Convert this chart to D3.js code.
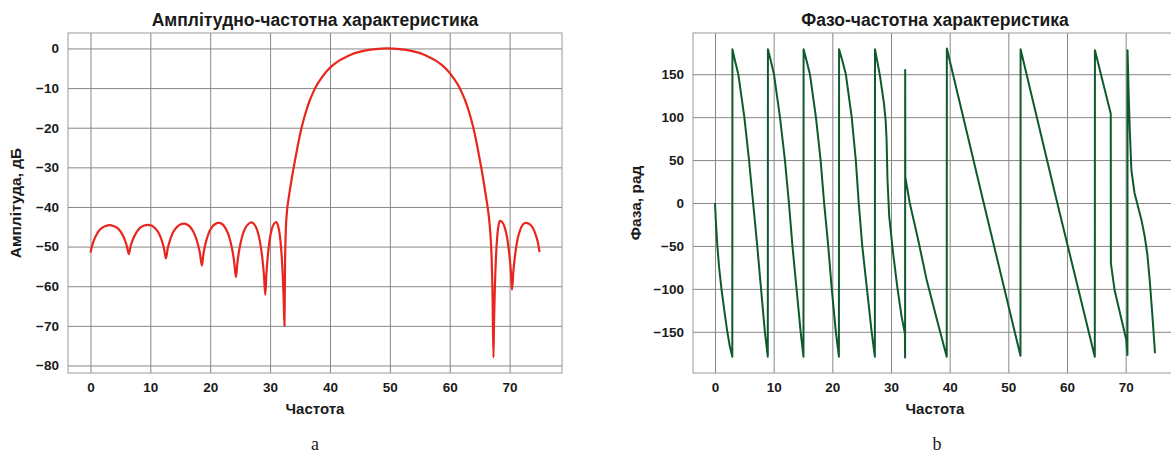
<!DOCTYPE html>
<html>
<head>
<meta charset="utf-8">
<title>АЧХ / ФЧХ</title>
<script src="https://d3js.org/d3.v7.min.js"></script>
<style>
    body { margin: 0; background: #fff; overflow: hidden; }
    svg { display: block; }
    text { font-family: 'Liberation Sans', Arial, sans-serif; font-weight: bold; fill: #1a1a1a; }
    .grid line { stroke: #878787; stroke-width: 1; }
    .grid path { display: none; }
    .tick text { font-size: 13.5px; }
    .frame { fill: none; stroke: #9a9a9a; stroke-width: 1; }
    .caption { font-family: 'Liberation Serif', 'Times New Roman', serif; font-weight: normal; font-size: 18px; }
</style>
</head>
<body>
<svg width="1171" height="461"></svg>
<script>
// DATA ========================================================
const freqTicks = [0, 10, 20, 30, 40, 50, 60, 70];
const ampTicks = [0, -10, -20, -30, -40, -50, -60, -70, -80];
const phaseTicks = [150, 100, 50, 0, -50, -100, -150];

// [частота, дБ]
const ampPoints = [
    [0,-51.5],[0.32,-49.6],[0.64,-48.2],[1.28,-46.3],[1.92,-45.3],[2.56,-44.8],[3.2,-44.6],[3.84,-44.8],[4.48,-45.3],[5.12,-46.4],[5.76,-48.4],[6.08,-49.9],[6.4,-51.9],
    [6.72,-49.8],[7.04,-48.4],[7.68,-46.4],[8.32,-45.2],[8.96,-44.7],[9.6,-44.5],[10.2,-44.7],[10.8,-45.4],[11.4,-46.6],[12.0,-48.9],[12.3,-50.6],[12.6,-53.0],
    [12.9,-50.5],[13.2,-48.8],[13.8,-46.4],[14.4,-45.1],[15.0,-44.4],[15.6,-44.2],[16.2,-44.5],[16.8,-45.3],[17.4,-46.9],[18.0,-49.7],[18.3,-51.8],[18.6,-54.8],
    [18.88,-51.8],[19.16,-49.6],[19.72,-46.7],[20.28,-45.1],[20.84,-44.3],[21.4,-44.0],[21.98,-44.3],[22.56,-45.4],[23.14,-47.4],[23.72,-51.1],[24.01,-53.9],[24.3,-57.7],
    [24.56,-53.8],[24.82,-51.1],[25.34,-47.4],[25.86,-45.3],[26.38,-44.3],[26.9,-43.9],[27.36,-44.4],[27.82,-45.7],[28.28,-48.5],[28.74,-53.4],[28.97,-57.1],[29.2,-62.2],
    [29.38,-57.0],[29.56,-53.4],[29.92,-48.4],[30.28,-45.6],[30.64,-44.3],[31.0,-43.8],[31.28,-44.5],[31.56,-46.4],[31.84,-50.4],[32.12,-57.4],[32.26,-62.7],[32.4,-70],
    [32.5,-54],[32.6,-47],[32.8,-41.5],[33.1,-37.8],[33.6,-33],[34.1,-28.7],[34.6,-24.7],[35.1,-21],[35.6,-18],[36.1,-15.4],[36.6,-13.2],[37.1,-11.4],[37.6,-9.8],
    [38.6,-7.4],[39.6,-5.5],[40.6,-4.1],[41.6,-3.0],[42.6,-2.2],[43.6,-1.5],[44.6,-1.0],[45.6,-0.6],[47.6,-0.15],[49.6,0],
    [51.6,-0.15],[53.6,-0.6],[54.6,-1.0],[55.6,-1.5],[56.6,-2.2],[57.6,-3.0],[58.6,-4.1],[59.6,-5.5],[60.6,-7.4],[61.6,-9.8],[62.1,-11.4],[62.6,-13.2],
    [63.1,-15.4],[63.6,-18],[64.1,-21],[64.6,-24.7],[65.1,-28.7],[65.6,-33],[66.1,-37.8],[66.5,-42],[66.8,-47],[67.0,-53],[67.15,-62],[67.3,-78],
    [67.41,-68.3],[67.52,-61.4],[67.74,-52.1],[67.96,-47.0],[68.18,-44.4],[68.4,-43.5],[68.8,-43.9],[69.2,-45.2],[69.6,-47.9],[70.0,-52.6],[70.2,-56.0],[70.4,-60.9],
    [70.63,-56.2],[70.86,-52.8],[71.32,-48.2],[71.78,-45.7],[72.24,-44.4],[72.7,-44],[73.16,-44.2],[73.62,-44.7],[74.08,-45.9],[74.54,-47.9],[74.77,-49.3],[75,-51.4]
];

// [частота, фаза]
const phasePoints = [
    [0,0],[0.15,-22],[0.4,-50],[0.7,-75],[1.1,-100],[1.6,-126],[2.1,-150],[2.5,-166],[2.95,-179],
    [2.97,179],[3.4,166],[3.97,150],[5.0,100],[5.8,50],[6.5,0],[7.2,-50],[7.85,-100],[8.5,-150],[9.0,-179],
    [9.02,179],[9.5,166],[10.05,150],[11.07,100],[11.92,50],[12.6,0],[13.2,-50],[13.9,-100],[14.6,-150],[15.08,-179],
    [15.1,179],[15.6,166],[16.18,150],[17.2,100],[18.0,50],[18.6,0],[19.3,-50],[19.9,-100],[20.6,-150],[21.12,-179],
    [21.15,179],[21.7,166],[22.3,150],[23.3,100],[24.0,50],[24.5,0],[25.1,-50],[25.9,-100],[26.7,-150],[27.25,-179],
    [27.27,179],[28.1,149],[28.8,116],[29.1,95],[29.25,73],[29.4,27],[29.7,-16],[30.3,-55],[31.06,-97],[31.8,-132],[32.37,-152],[32.4,-180],
    [32.42,155],[32.44,30],[33.2,0],[34.6,-42],[36.06,-89],[37.8,-135],[39.5,-179],
    [39.52,180],[45.7,3],[52.07,-178],
    [52.09,179],[58.2,4],[64.74,-179],
    [64.76,178],[67.46,104],[67.48,-70],[68.1,-101],[69.3,-136],[70.1,-159],[70.3,-177],
    [70.32,178],[70.5,130],[70.7,85],[70.98,38],[71.5,12],[72.1,-4],[72.7,-20],[73.25,-39],[73.7,-60],[74.1,-90],[74.6,-135],[75,-175]
];

// LAYOUT ======================================================
const svg = d3.select("svg");
const plotTop = 33, plotBottom = 373;

function drawPanel(cfg) {
    const x = d3.scaleLinear().domain([-3.75, 78.75]).range([cfg.left, cfg.right]);
    const y = d3.scaleLinear().domain(cfg.yDomain).range([plotBottom, plotTop]);
    const g = svg.append("g");

    g.append("g")
        .attr("class", "grid")
        .attr("transform", `translate(0,${plotBottom})`)
        .call(d3.axisBottom(x).tickValues(freqTicks).tickSize(-(plotBottom - plotTop)).tickPadding(9).tickFormat(d3.format("d")));

    g.append("g")
        .attr("class", "grid")
        .attr("transform", `translate(${cfg.left},0)`)
        .call(d3.axisLeft(y).tickValues(cfg.yTicks).tickSize(-(cfg.right - cfg.left)).tickPadding(9).tickFormat(d3.format("d")));

    g.append("rect")
        .attr("class", "frame")
        .attr("x", cfg.left).attr("y", plotTop)
        .attr("width", cfg.right - cfg.left).attr("height", plotBottom - plotTop);

    const line = d3.line()
        .x(d => x(d[0]))
        .y(d => y(d[1]))
        .curve(cfg.curve);

    g.append("path")
        .datum(cfg.points)
        .attr("fill", "none")
        .attr("stroke", cfg.color)
        .attr("stroke-width", cfg.width)
        .attr("stroke-linejoin", "round")
        .attr("d", line);

    const cx = (cfg.left + cfg.right) / 2;
    g.append("text")
        .attr("x", cx).attr("y", 26)
        .attr("text-anchor", "middle")
        .attr("font-size", 17.5)
        .text(cfg.title);

    g.append("text")
        .attr("x", cx).attr("y", 414)
        .attr("text-anchor", "middle")
        .attr("font-size", 15)
        .text("Частота");

    g.append("text")
        .attr("transform", `translate(${cfg.yLabelX},${(plotTop + plotBottom) / 2}) rotate(-90)`)
        .attr("text-anchor", "middle")
        .attr("font-size", 15.5)
        .text(cfg.yLabel);

    g.append("text")
        .attr("class", "caption")
        .attr("x", cfg.captionX).attr("y", 450)
        .attr("text-anchor", "middle")
        .text(cfg.caption);
}

// PANELS ======================================================
drawPanel({
    left: 68, right: 562,
    yDomain: [-81.9, 3.9], yTicks: ampTicks,
    points: ampPoints, color: "#e8261d", width: 2.2, curve: d3.curveMonotoneX,
    title: "Амплітудно-частотна характеристика",
    yLabel: "Амплітуда, дБ", yLabelX: 21,
    caption: "a", captionX: 315
});

drawPanel({
    left: 693, right: 1177,
    yDomain: [-198, 198], yTicks: phaseTicks,
    points: phasePoints, color: "#0f5a2c", width: 2, curve: d3.curveLinear,
    title: "Фазо-частотна характеристика",
    yLabel: "Фаза, рад", yLabelX: 641,
    caption: "b", captionX: 937
});
</script>
</body>
</html>
